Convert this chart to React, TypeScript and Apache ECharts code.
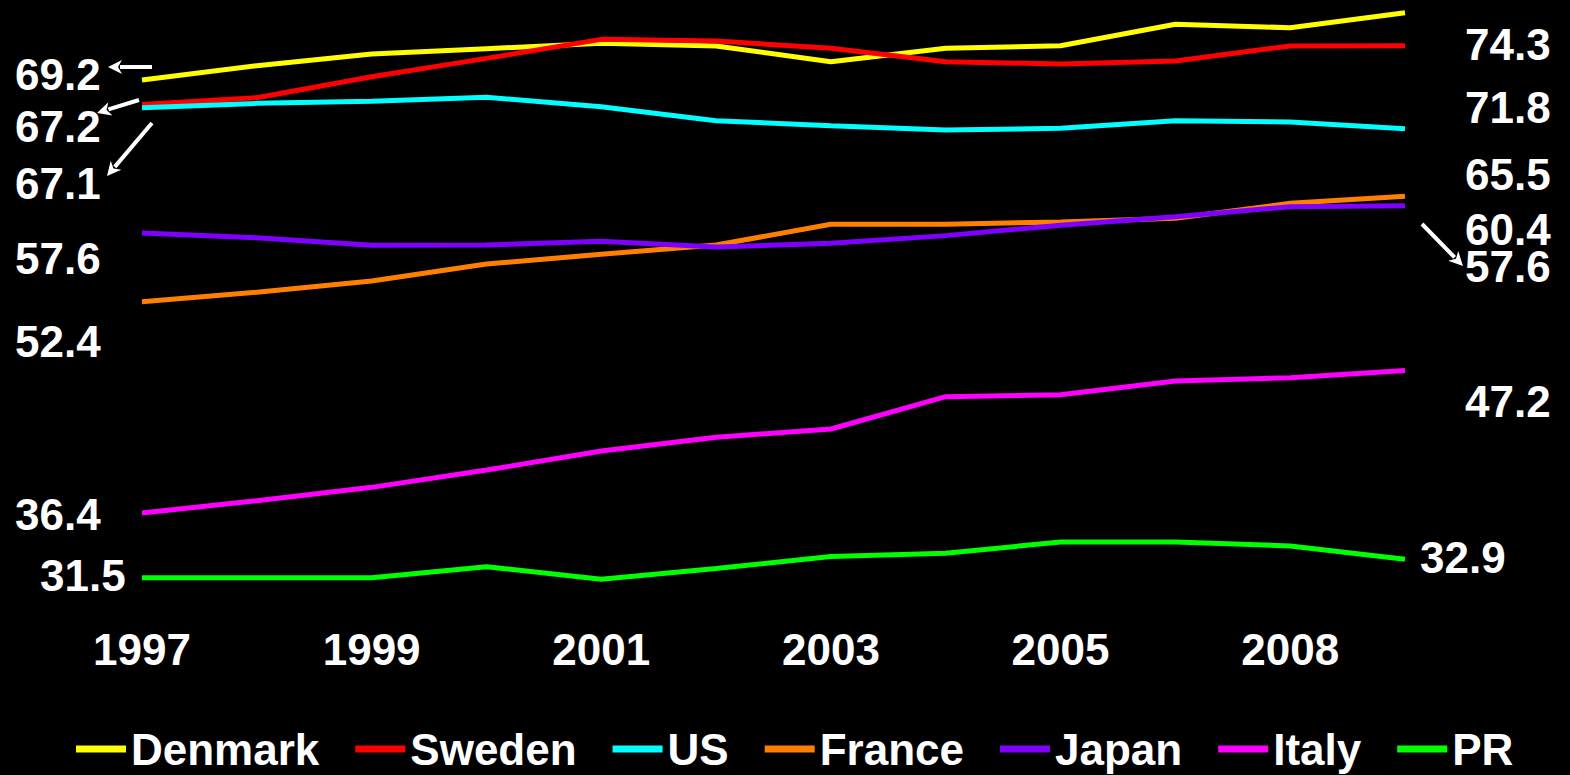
import React, { useEffect, useRef } from "react";
import * as echarts from "echarts";

const years = ["1997", "1998", "1999", "2000", "2001", "2002", "2003", "2004", "2005", "2006", "2008", "2009"];
const denmark = [69.2, 70.28, 71.17, 71.57, 71.98, 71.78, 70.59, 71.6, 71.8, 73.42, 73.16, 74.3];
const sweden = [67.35, 67.86, 69.45, 70.84, 72.28, 72.15, 71.6, 70.59, 70.41, 70.64, 71.78, 71.8];
const us = [67.1, 67.43, 67.59, 67.89, 67.18, 66.12, 65.74, 65.41, 65.54, 66.12, 66.02, 65.5];
const france = [52.4, 53.12, 53.97, 55.26, 56.0, 56.7, 58.27, 58.27, 58.45, 58.72, 59.86, 60.4];
const japan = [57.6, 57.25, 56.68, 56.7, 56.98, 56.55, 56.83, 57.41, 58.2, 58.84, 59.6, 59.68];
const italy = [36.4, 37.33, 38.34, 39.65, 41.09, 42.13, 42.76, 45.21, 45.36, 46.4, 46.65, 47.2];
const pr = [31.5, 31.5, 31.5, 32.33, 31.37, 32.2, 33.1, 33.35, 34.2, 34.2, 33.9, 32.9];

const seriesNames = ["Denmark", "Sweden", "US", "France", "Japan", "Italy", "PR"];
const seriesColors = ["#FFFF00", "#FF0000", "#00FFFF", "#FF8000", "#8000FF", "#FF00FF", "#00FF00"];
const seriesData = [denmark, sweden, us, france, japan, italy, pr];

const startLabels = ["69.2", "67.2", "67.1", "57.6", "52.4", "36.4", "31.5"];
const endLabels = ["74.3", "71.8", "65.5", "60.4", "57.6", "47.2", "32.9"];

const FONT = '"Liberation Sans", Arial, Helvetica, sans-serif';

function arrow(x1: number, y1: number, x2: number, y2: number) {
  const dx = x2 - x1;
  const dy = y2 - y1;
  const len = Math.sqrt(dx * dx + dy * dy);
  const ux = dx / len;
  const uy = dy / len;
  const headLen = 14;
  const headW = 7;
  const bx = x2 - ux * headLen;
  const by = y2 - uy * headLen;
  const px = -uy;
  const py = ux;
  return [
    {
      type: "line",
      shape: { x1, y1, x2: bx + ux * 2, y2: by + uy * 2 },
      style: { stroke: "#ffffff", lineWidth: 4 },
      z: 100,
    },
    {
      type: "polygon",
      shape: {
        points: [
          [x2, y2],
          [bx + px * headW, by + py * headW],
          [bx + ux * 4, by + uy * 4],
          [bx - px * headW, by - py * headW],
        ],
      },
      style: { fill: "#ffffff" },
      z: 100,
    },
  ];
}

export default function App() {
  const ref = useRef<HTMLDivElement>(null);

  useEffect(() => {
    if (!ref.current) return;
    const chart = echarts.init(ref.current, null, { renderer: "svg" });

    const leftPos = [
      [15, 74],
      [15, 126],
      [15, 183],
      [15, 258],
      [15, 341],
      [15, 514],
      [40, 575],
    ];
    const rightPos = [
      [1465, 44],
      [1465, 107],
      [1465, 174],
      [1465, 229],
      [1465, 266],
      [1465, 401],
      [1420, 557],
    ];

    const textEl = (t: string, x: number, y: number) => ({
      type: "text",
      x,
      y,
      z: 100,
      style: {
        text: t,
        fill: "#ffffff",
        fontSize: 44,
        fontWeight: "bold",
        fontFamily: FONT,
        align: "left",
        verticalAlign: "middle",
      },
    });

    const graphics: any[] = [];
    startLabels.forEach((t, i) => graphics.push(textEl(t, leftPos[i][0], leftPos[i][1])));
    endLabels.forEach((t, i) => graphics.push(textEl(t, rightPos[i][0], rightPos[i][1])));
    graphics.push(...arrow(152, 67, 108, 67));
    graphics.push(...arrow(139, 100, 97, 113));
    graphics.push(...arrow(152, 123, 107, 176));
    graphics.push(...arrow(1422, 224, 1463, 266));

    chart.setOption({
      animation: false,
      backgroundColor: "#000000",
      textStyle: { fontFamily: FONT },
      grid: { left: 142, right: 165, top: 3.44, bottom: 177.56, containLabel: false },
      legend: {
        data: seriesNames,
        left: 76,
        top: 727,
        padding: 0,
        icon: "rect",
        itemWidth: 50,
        itemHeight: 7,
        itemGap: 36,
        textStyle: { color: "#ffffff", fontSize: 44, fontWeight: "bold", fontFamily: FONT },
      },
      xAxis: {
        type: "category",
        data: years,
        boundaryGap: false,
        axisLine: { show: false },
        axisTick: { show: false },
        splitLine: { show: false },
        axisLabel: {
          interval: 1,
          color: "#ffffff",
          fontSize: 44,
          fontWeight: "bold",
          fontFamily: FONT,
          margin: 30,
        },
      },
      yAxis: {
        type: "value",
        min: 30,
        max: 75,
        show: false,
        splitLine: { show: false },
      },
      series: seriesNames.map((name, i) => ({
        name,
        type: "line",
        data: seriesData[i],
        showSymbol: false,
        symbol: "none",
        color: seriesColors[i],
        lineStyle: { color: seriesColors[i], width: 5 },
      })),
      graphic: graphics,
    });

    return () => chart.dispose();
  }, []);

  return (
    <div
      ref={ref}
      style={{ position: "absolute", left: 0, top: 0, width: 1570, height: 775, background: "#000" }}
    />
  );
}
